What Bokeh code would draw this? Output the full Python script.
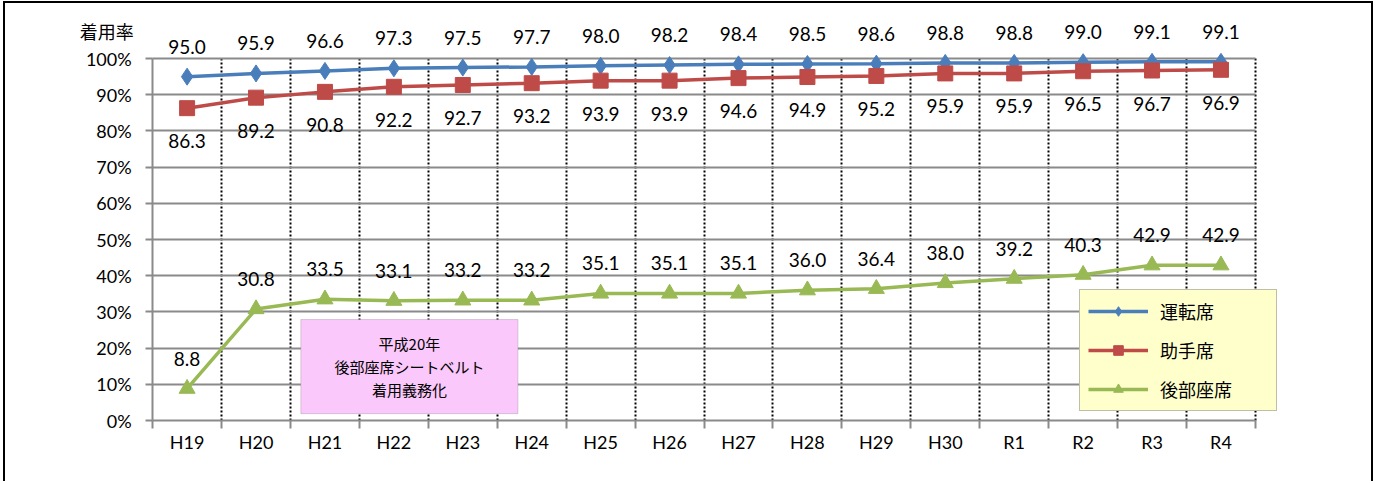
from bokeh.plotting import figure
from bokeh.models import (Range1d, FixedTicker, ColumnDataSource, LabelSet, Label,
                          BoxAnnotation, Legend, LegendItem)
from bokeh.core.properties import value
from bokeh.embed import file_html
from bokeh.resources import INLINE

categories = ["H19", "H20", "H21", "H22", "H23", "H24", "H25", "H26",
              "H27", "H28", "H29", "H30", "R1", "R2", "R3", "R4"]
driver = [95.0, 95.9, 96.6, 97.3, 97.5, 97.7, 98.0, 98.2, 98.4, 98.5, 98.6, 98.8, 98.8, 99.0, 99.1, 99.1]
passenger = [86.3, 89.2, 90.8, 92.2, 92.7, 93.2, 93.9, 93.9, 94.6, 94.9, 95.2, 95.9, 95.9, 96.5, 96.7, 96.9]
rear = [8.8, 30.8, 33.5, 33.1, 33.2, 33.2, 35.1, 35.1, 35.1, 36.0, 36.4, 38.0, 39.2, 40.3, 42.9, 42.9]
series_names = ["運転席", "助手席", "後部座席"]
y_ticks = list(range(0, 101, 10))
y_title = "着用率"
note_text = "平成20年\n後部座席シートベルト\n着用義務化"

NUM_FONT = "Lato"
JP_FONT = "Noto Sans CJK JP"
GRID = "#8a8a8a"

n = len(categories)
xs = [i + 0.5 for i in range(n)]
y_max = y_ticks[-1]

# frame spans most of the canvas; the chart area itself is x 0..n, y 0..100
p = figure(width=1370, height=480, output_backend="svg", toolbar_location=None,
           x_range=Range1d(-1.2643, n + 0.5377), y_range=Range1d(-12.43, 111.9),
           min_border_left=60, min_border_right=83, min_border_top=12, min_border_bottom=18)
p.styles = {"border-left": "2px solid #000000", "border-top": "2px solid #000000",
            "border-right": "2px solid #000000", "margin-left": "3px", "margin-top": "1px"}
p.outline_line_color = None
p.background_fill_color = "white"

# grids
p.ygrid.ticker = FixedTicker(ticks=y_ticks[1:])
p.ygrid.grid_line_color = GRID
p.ygrid.grid_line_width = 2
p.xgrid.ticker = FixedTicker(ticks=list(range(1, n + 1)))
p.xgrid.grid_line_color = "black"
p.xgrid.grid_line_width = 2
p.xgrid.grid_line_dash = "2 2"
try:
    p.ygrid.cross_bounds = (0, n)
    p.xgrid.cross_bounds = (0, y_max)
except Exception:
    p.xgrid.visible = False
    p.ygrid.visible = False
    hb = y_ticks[1:]
    p.segment(x0=[0] * len(hb), x1=[n] * len(hb), y0=hb, y1=hb, line_color=GRID, line_width=2)
    vb = list(range(1, n + 1))
    p.segment(x0=vb, x1=vb, y0=[0] * len(vb), y1=[y_max] * len(vb),
              line_color="black", line_width=2, line_dash="2 2")

# axes
p.yaxis.fixed_location = 0
p.yaxis.bounds = (0, y_max)
p.yaxis.ticker = FixedTicker(ticks=y_ticks)
p.yaxis.major_label_overrides = {t: f"{t}%" for t in y_ticks}
p.yaxis.axis_line_color = GRID
p.yaxis.axis_line_width = 2
p.yaxis.major_tick_line_color = GRID
p.yaxis.major_tick_line_width = 2
p.yaxis.major_tick_out = 7
p.yaxis.major_tick_in = 0
p.yaxis.minor_tick_line_color = None
p.yaxis.major_label_standoff = 14
p.yaxis.major_label_text_font = NUM_FONT
p.yaxis.major_label_text_font_size = "18px"
p.yaxis.major_label_text_color = "black"

p.xaxis.fixed_location = 0
p.xaxis.bounds = (0, n)
p.xaxis.ticker = FixedTicker(ticks=xs, minor_ticks=list(range(0, n + 1)))
p.xaxis.major_label_overrides = {x: c for x, c in zip(xs, categories)}
p.xaxis.axis_line_color = GRID
p.xaxis.axis_line_width = 2
p.xaxis.major_tick_line_color = None
p.xaxis.major_tick_out = 0
p.xaxis.major_tick_in = 0
p.xaxis.minor_tick_line_color = GRID
p.xaxis.minor_tick_line_width = 2
p.xaxis.minor_tick_out = 8
p.xaxis.minor_tick_in = 0
p.xaxis.major_label_standoff = 2
p.xaxis.major_label_text_font = NUM_FONT
p.xaxis.major_label_text_font_size = "18px"
p.xaxis.major_label_text_color = "black"

# annotation box
note_box = BoxAnnotation(left=2.15, right=5.3, bottom=1.9, top=27.9,
                         fill_color="#FAC8FA", fill_alpha=1.0,
                         line_color="#7f7f7f", line_width=1)
p.add_layout(note_box)
note = Label(x=3.725, y=14.9, text=note_text, text_align="center", text_baseline="middle",
             text_font=JP_FONT, text_font_size="15px", text_color="black",
             text_line_height=1.1)
p.add_layout(note)

colors = ["#4A7EBB", "#BE4B48", "#98B954"]
markers = ["diamond", "square", "triangle"]
msizes = [17, 15, 16]
series = [driver, passenger, rear]
offsets = [30, -33, 30]

items = []
for name, vals, col, mk, ms, off in zip(series_names, series, colors, markers, msizes, offsets):
    src = ColumnDataSource(dict(x=xs, y=vals, t=[f"{v:.1f}" for v in vals]))
    lr = p.line("x", "y", source=src, line_color=col, line_width=3.5)
    sr = p.scatter("x", "y", source=src, marker=mk, size=ms, fill_color=col, line_color=col)
    items.append(LegendItem(label=name, renderers=[lr, sr]))
    ls = LabelSet(x="x", y="y", text="t", source=src, y_offset=off,
                  text_align="center", text_baseline="middle",
                  text_font=value(NUM_FONT), text_font_size="19px", text_color="black")
    p.add_layout(ls)

# legend location is measured from the frame's bottom-left corner (frame bottom 45px below 0%)
legend = Legend(items=items, location=(1014, 54), orientation="vertical",
                background_fill_color="#FFFFCC", background_fill_alpha=1.0,
                border_line_color="#7f7f7f", border_line_width=1,
                label_text_font=JP_FONT, label_text_font_size="18px", label_text_color="black",
                glyph_width=60, glyph_height=24, label_height=24, label_width=108,
                label_standoff=12, spacing=13, padding=8, margin=0)
p.add_layout(legend)

title = Label(x=0, y=y_max, text=y_title, text_align="center", text_baseline="middle",
              x_offset=-46, y_offset=28,
              text_font=JP_FONT, text_font_size="18px", text_color="black")
p.add_layout(title)

open("out.html", "w").write(file_html(p, INLINE))
